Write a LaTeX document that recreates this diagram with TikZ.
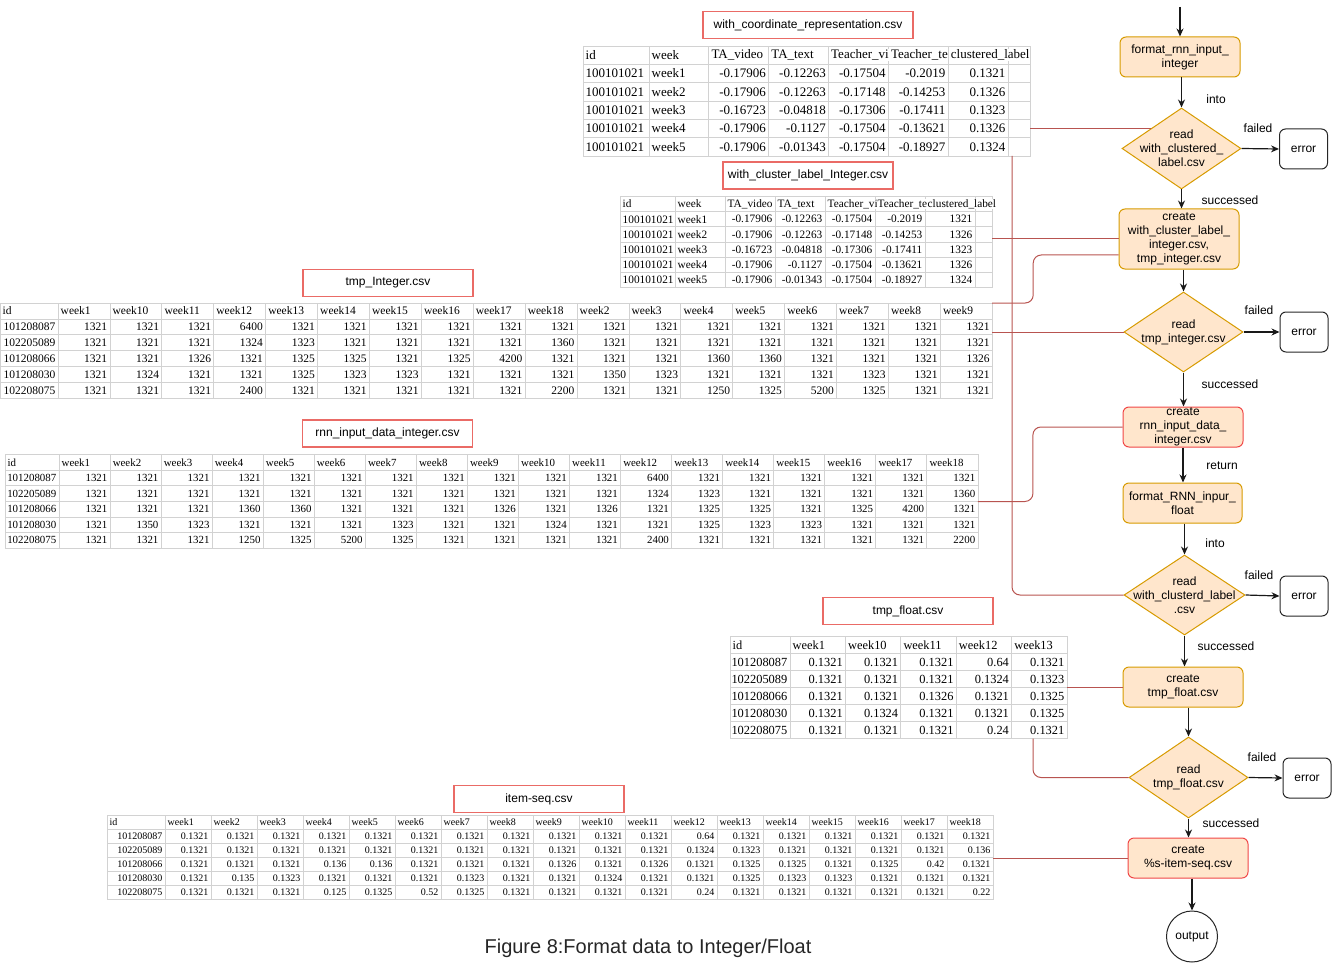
\documentclass[tikz,border=0pt]{standalone}
\usepackage{fontspec}
\setmainfont{Liberation Serif}
\setsansfont{Liberation Sans}
\usetikzlibrary{shapes.geometric,arrows.meta,positioning,calc}

% csv sheet: name, x, y, first width, column width, row height, font size, left columns, rows
\newcommand{\csvtable}[9]{%
  \foreach \row [count=\ri] in {#9} {
    \foreach \cell [count=\ci] in \row {
      \pgfmathsetmacro{\xl}{\ci==1 ? #2 : #2+#4+(\ci-2)*#5}
      \pgfmathsetmacro{\xr}{\ci==1 ? #2+#4 : #2+#4+(\ci-1)*#5}
      \pgfmathsetmacro{\yt}{#3+(\ri-1)*#6}
      \draw[gridline] (\xl,\yt) rectangle (\xr,\yt+#6);
      \coordinate (#1-se) at (\xr,\yt+#6);
      \ifnum\ri=1 \coordinate (#1-ne) at (\xr,#3); \fi
    }
  }
  \foreach \row [count=\ri] in {#9} {
    \foreach \cell [count=\ci] in \row {
      \pgfmathsetmacro{\xl}{\ci==1 ? #2 : #2+#4+(\ci-2)*#5}
      \pgfmathsetmacro{\xr}{\ci==1 ? #2+#4 : #2+#4+(\ci-1)*#5}
      \pgfmathsetmacro{\ym}{#3+(\ri-0.5)*#6}
      \ifnum\ri=1
        \node[headcell, font=\fontsize{#7}{#7}\selectfont] (#1-\ri-\ci) at (\xl+2,\ym) {\cell};
      \else\ifnum\ci>#8
        \node[numcell, font=\fontsize{#7}{#7}\selectfont] (#1-\ri-\ci) at (\xr-2,\ym) {\cell};
      \else
        \node[txtcell, font=\fontsize{#7}{#7}\selectfont] (#1-\ri-\ci) at (\xl+2,\ym) {\cell};
      \fi\fi
    }
  }
}

\begin{document}
\begin{tikzpicture}[x=1pt, y=-1pt,
    gridline/.style={draw=gray!35, line width=0.8pt},
    headcell/.style={anchor=west, inner sep=0.5pt, fill=white},
    numcell/.style={anchor=east, inner sep=0.5pt},
    txtcell/.style={anchor=west, inner sep=0.5pt},
    sflab/.style={font=\sffamily\fontsize{12}{14}\selectfont},
    proc/.style={sflab, rectangle, rounded corners=6pt, draw=procline, fill=procfill, line width=1pt, minimum width=120pt, minimum height=40pt, inner sep=0pt, align=center},
    hotproc/.style={proc, draw=hotline},
    decision/.style={diamond, draw=procline, fill=procfill, line width=1pt, inner sep=0pt, minimum width=119pt, minimum height=81pt},
    dtext/.style={sflab, align=center},
    errbox/.style={sflab, rectangle, rounded corners=6pt, draw=black!85, line width=1pt, minimum width=48pt, minimum height=40pt},
    endpt/.style={sflab, circle, draw=black!85, line width=1pt, minimum size=51pt, inner sep=0pt},
    filebox/.style={sflab, rectangle, draw=filered, line width=1.2pt, minimum width=170pt, minimum height=27pt},
    flow/.style={-{Stealth[length=8pt,width=7pt]}, line width=1.2pt, black!90},
    link/.style={draw=linkred, line width=1pt, rounded corners=8pt}]
    \definecolor{procfill}{RGB}{255,230,204}
    \definecolor{procline}{RGB}{215,155,0}
    \definecolor{hotline}{RGB}{240,70,70}
    \definecolor{filered}{RGB}{234,107,102}
    \definecolor{linkred}{RGB}{184,84,80}

    \useasboundingbox (0,0) rectangle (1332,968);

    % with_coordinate_representation.csv
    \node[filebox, minimum width=210pt] (lcoord) at (808,25) {with\_coordinate\_representation.csv};
    \foreach \k in {0,...,5} \draw[gridline] (1008,46+\k*18.33) rectangle ++(22,18.33);
    \csvtable{coord}{583}{46}{66}{59.83}{18.33}{13}{2}{%
      {id,week,TA\_video,TA\_text,Teacher\_vi,Teacher\_te,clustered\_label},%
      {100101021,week1,-0.17906,-0.12263,-0.17504,-0.2019,0.1321},%
      {100101021,week2,-0.17906,-0.12263,-0.17148,-0.14253,0.1326},%
      {100101021,week3,-0.16723,-0.04818,-0.17306,-0.17411,0.1323},%
      {100101021,week4,-0.17906,-0.1127,-0.17504,-0.13621,0.1326},%
      {100101021,week5,-0.17906,-0.01343,-0.17504,-0.18927,0.1324}}
    \coordinate (coord-se) at (1030,156);

    % with_cluster_label_Integer.csv
    \node[filebox] (lcli) at (808,175.5) {with\_cluster\_label\_Integer.csv};
    \foreach \k in {0,...,5} \draw[gridline] (975,196.5+\k*15.2) rectangle ++(17,15.2);
    \csvtable{cli}{620}{196.5}{55}{50}{15.2}{11.3}{2}{%
      {id,week,TA\_video,TA\_text,Teacher\_vi,Teacher\_te,clustered\_label},%
      {100101021,week1,-0.17906,-0.12263,-0.17504,-0.2019,1321},%
      {100101021,week2,-0.17906,-0.12263,-0.17148,-0.14253,1326},%
      {100101021,week3,-0.16723,-0.04818,-0.17306,-0.17411,1323},%
      {100101021,week4,-0.17906,-0.1127,-0.17504,-0.13621,1326},%
      {100101021,week5,-0.17906,-0.01343,-0.17504,-0.18927,1324}}
    \coordinate (cli-se) at (992,287.7);

    % tmp_Integer.csv
    \node[filebox] (ltint) at (388,283) {tmp\_Integer.csv};
    \csvtable{tint}{0}{303}{58}{51.9}{15.9}{11.5}{0}{%
      {id,week1,week10,week11,week12,week13,week14,week15,week16,week17,week18,week2,week3,week4,week5,week6,week7,week8,week9},%
      {101208087,1321,1321,1321,6400,1321,1321,1321,1321,1321,1321,1321,1321,1321,1321,1321,1321,1321,1321},%
      {102205089,1321,1321,1321,1324,1323,1321,1321,1321,1321,1360,1321,1321,1321,1321,1321,1321,1321,1321},%
      {101208066,1321,1321,1326,1321,1325,1325,1321,1325,4200,1321,1321,1321,1360,1360,1321,1321,1321,1326},%
      {101208030,1321,1324,1321,1321,1325,1323,1323,1321,1321,1321,1350,1323,1321,1321,1321,1323,1321,1321},%
      {102208075,1321,1321,1321,2400,1321,1321,1321,1321,1321,2200,1321,1321,1250,1325,5200,1325,1321,1321}}

    % rnn_input_data_integer.csv
    \node[filebox] (lrnn) at (387.5,433.5) {rnn\_input\_data\_integer.csv};
    \csvtable{rnn}{5}{454.5}{54}{51.05}{15.6}{10.9}{0}{%
      {id,week1,week2,week3,week4,week5,week6,week7,week8,week9,week10,week11,week12,week13,week14,week15,week16,week17,week18},%
      {101208087,1321,1321,1321,1321,1321,1321,1321,1321,1321,1321,1321,6400,1321,1321,1321,1321,1321,1321},%
      {102205089,1321,1321,1321,1321,1321,1321,1321,1321,1321,1321,1321,1324,1323,1321,1321,1321,1321,1360},%
      {101208066,1321,1321,1321,1360,1360,1321,1321,1321,1326,1321,1326,1321,1325,1325,1321,1325,4200,1321},%
      {101208030,1321,1350,1323,1321,1321,1321,1323,1321,1321,1324,1321,1321,1325,1323,1323,1321,1321,1321},%
      {102208075,1321,1321,1321,1250,1325,5200,1325,1321,1321,1321,1321,2400,1321,1321,1321,1321,1321,2200}}

    % tmp_float.csv
    \node[filebox] (ltfl) at (908,611) {tmp\_float.csv};
    \csvtable{tfl}{730}{636.5}{60}{55.4}{17}{12.4}{0}{%
      {id,week1,week10,week11,week12,week13},%
      {101208087,0.1321,0.1321,0.1321,0.64,0.1321},%
      {102205089,0.1321,0.1321,0.1321,0.1324,0.1323},%
      {101208066,0.1321,0.1321,0.1326,0.1321,0.1325},%
      {101208030,0.1321,0.1324,0.1321,0.1321,0.1325},%
      {102208075,0.1321,0.1321,0.1321,0.24,0.1321}}

    % item-seq.csv
    \node[filebox] (liseq) at (539,799) {item-seq.csv};
    \csvtable{iseq}{107}{815}{58}{46}{14}{10}{0}{%
      {id,week1,week2,week3,week4,week5,week6,week7,week8,week9,week10,week11,week12,week13,week14,week15,week16,week17,week18},%
      {101208087,0.1321,0.1321,0.1321,0.1321,0.1321,0.1321,0.1321,0.1321,0.1321,0.1321,0.1321,0.64,0.1321,0.1321,0.1321,0.1321,0.1321,0.1321},%
      {102205089,0.1321,0.1321,0.1321,0.1321,0.1321,0.1321,0.1321,0.1321,0.1321,0.1321,0.1321,0.1324,0.1323,0.1321,0.1321,0.1321,0.1321,0.136},%
      {101208066,0.1321,0.1321,0.1321,0.136,0.136,0.1321,0.1321,0.1321,0.1326,0.1321,0.1326,0.1321,0.1325,0.1325,0.1321,0.1325,0.42,0.1321},%
      {101208030,0.1321,0.135,0.1323,0.1321,0.1321,0.1321,0.1323,0.1321,0.1321,0.1324,0.1321,0.1321,0.1325,0.1323,0.1323,0.1321,0.1321,0.1321},%
      {102208075,0.1321,0.1321,0.1321,0.125,0.1325,0.52,0.1325,0.1321,0.1321,0.1321,0.1321,0.24,0.1321,0.1321,0.1321,0.1321,0.1321,0.22}}

    % Flow on the right
    \coordinate (top) at (1180,7);
    \node[proc] (c1) at (1180,57) {format\_rnn\_input\_\\integer};
    \node[decision, label={[dtext]center:read\\with\_clustered\_\\label.csv}] (d1) at (1181.5,148.5) {};
    \node[errbox] (e1) at (1303.5,149) {error};
    \node[proc, minimum height=60pt] (c2) at (1179,239) {create\\with\_cluster\_label\_\\integer.csv,\\tmp\_integer.csv};
    \node[decision, minimum height=80pt, label={[dtext]center:read\\tmp\_integer.csv}] (d2) at (1183.5,332) {};
    \node[errbox] (e2) at (1304,332) {error};
    \node[hotproc] (c3) at (1183,427) {create\\rnn\_input\_data\_\\integer.csv};
    \node[proc, minimum width=119pt] (c4) at (1182.5,503) {format\_RNN\_inpur\_\\float};
    \node[decision, minimum width=121pt, minimum height=80pt, label={[dtext]center:read\\with\_clusterd\_label\\.csv}] (d3) at (1184.5,595) {};
    \node[errbox] (e3) at (1304,596) {error};
    \node[proc] (c5) at (1183,687) {create\\tmp\_float.csv};
    \node[decision, label={[dtext]center:read\\tmp\_float.csv}] (d4) at (1188.5,777.5) {};
    \node[errbox] (e4) at (1307,778) {error};
    \node[hotproc] (c6) at (1188,858) {create\\\%s-item-seq.csv};
    \node[endpt] (out) at (1192,936.5) {output};

    % Arrows
    \draw[flow] (top) -- (c1.north);
    \draw[flow] (c1.south -| d1.north) -- (d1.north);
    \draw[flow] (d1.east) -- (e1.west);
    \draw[flow] (d1.south) -- (d1.south |- c2.north);
    \draw[flow] (c2.south -| d2.north) -- (d2.north);
    \draw[flow] (d2.east) -- (e2.west);
    \draw[flow] (d2.south) -- (d2.south |- c3.north);
    \draw[flow] (c3.south) -- (c3.south |- c4.north);
    \draw[flow] (c4.south -| d3.north) -- (d3.north);
    \draw[flow] (d3.east) -- (e3.west);
    \draw[flow] (d3.south) -- (d3.south |- c5.north);
    \draw[flow] (c5.south -| d4.north) -- (d4.north);
    \draw[flow] (d4.east) -- (e4.west);
    \draw[flow] (d4.south) -- (d4.south |- c6.north);
    \draw[flow] (c6.south -| out.north) -- (out.north);

    % Arrow labels
    \node[sflab] (l1) at (1216,99) {into};
    \node[sflab] (l2) at (1258,128) {failed};
    \node[sflab] (l3) at (1230,200) {successed};
    \node[sflab] (l4) at (1259,310) {failed};
    \node[sflab] (l5) at (1230,384) {successed};
    \node[sflab] (l6) at (1222,466) {return};
    \node[sflab] (l7) at (1215,543) {into};
    \node[sflab] (l8) at (1259,575) {failed};
    \node[sflab] (l9) at (1226,646) {successed};
    \node[sflab] (l10) at (1262,757) {failed};
    \node[sflab] (l11) at (1231,823) {successed};

    % Links from the files to the steps
    \draw[link] (d1.146) -- (d1.146 -| coord-se);
    \draw[link] (d3.west) -| ($(coord-se)+(-18,0)$);
    \draw[link] (c2.west) -- (c2.west -| cli-se);
    \draw[link] ($(c2.west)+(0,16)$) -| ($(tint-ne)+(41,0)$) -- (tint-ne);
    \draw[link] (d2.west) -- (d2.west -| tint-ne);
    \draw[link] (c3.west) -| ($(rnn-ne)+(55,47)$) -- ($(rnn-ne)+(0,47)$);
    \draw[link] (c5.west) -- (c5.west -| tfl-ne);
    \draw[link] (d4.west) -| ($(tfl-se)+(-34,0)$);
    \draw[link] (c6.west) -- (c6.west -| iseq-ne);

    % Caption
    \node[font=\sffamily\fontsize{20}{24}\selectfont, text=black!85] (cap) at (648,948) {Figure 8:Format data to Integer/Float};
\end{tikzpicture}
\end{document}
